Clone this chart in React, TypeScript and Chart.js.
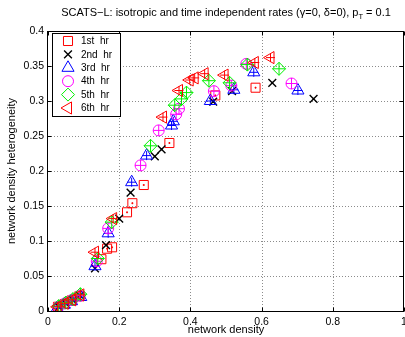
import React, { useEffect, useRef } from 'react';
import { Chart, registerables, PointElement } from 'chart.js';

Chart.register(...registerables);

const titleMain = 'SCATS\u2212L: isotropic and time independent rates (\u03b3=0, \u03b4=0), p';
const titleSub = 'T';
const titleTail = ' = 0.1';
const xTitle = 'network density';
const yTitle = 'network density heterogeneity';

const seriesLabels = ['1st  hr', '2nd  hr', '3rd  hr', '4th  hr', '5th  hr', '6th  hr'];
const xTicks = [0, 0.2, 0.4, 0.6, 0.8, 1];
const yTicks = [0, 0.05, 0.1, 0.15, 0.2, 0.25, 0.3, 0.35, 0.4];

const hr1X = [0.028, 0.047, 0.066, 0.088, 0.150, 0.166, 0.180, 0.222, 0.237, 0.269, 0.341, 0.470, 0.583];
const hr1Y = [0.006, 0.010, 0.015, 0.021, 0.074, 0.089, 0.091, 0.141, 0.154, 0.180, 0.240, 0.308, 0.319];

const hr2X = [0.030, 0.050, 0.069, 0.090, 0.132, 0.163, 0.200, 0.232, 0.300, 0.319, 0.464, 0.517, 0.630, 0.746];
const hr2Y = [0.006, 0.011, 0.016, 0.022, 0.061, 0.094, 0.132, 0.169, 0.221, 0.231, 0.299, 0.314, 0.326, 0.303];

const hr3X = [0.026, 0.046, 0.066, 0.092, 0.132, 0.169, 0.235, 0.277, 0.347, 0.352, 0.456, 0.522, 0.578, 0.702];
const hr3Y = [0.004, 0.009, 0.014, 0.020, 0.064, 0.111, 0.184, 0.222, 0.265, 0.271, 0.300, 0.316, 0.341, 0.315];

const hr4X = [0.029, 0.048, 0.068, 0.089, 0.137, 0.169, 0.260, 0.311, 0.360, 0.368, 0.466, 0.515, 0.557, 0.684];
const hr4Y = [0.006, 0.011, 0.016, 0.022, 0.071, 0.118, 0.208, 0.258, 0.281, 0.289, 0.314, 0.322, 0.353, 0.325];

const hr5X = [0.030, 0.050, 0.070, 0.091, 0.140, 0.179, 0.288, 0.356, 0.375, 0.389, 0.452, 0.510, 0.560, 0.649];
const hr5Y = [0.007, 0.012, 0.017, 0.024, 0.075, 0.127, 0.236, 0.294, 0.303, 0.312, 0.329, 0.326, 0.352, 0.346];

const hr6X = [0.027, 0.047, 0.068, 0.091, 0.132, 0.183, 0.323, 0.368, 0.398, 0.412, 0.440, 0.496, 0.581, 0.625];
const hr6Y = [0.006, 0.011, 0.016, 0.023, 0.084, 0.132, 0.277, 0.315, 0.330, 0.333, 0.339, 0.337, 0.355, 0.362];

const seriesX = [hr1X, hr2X, hr3X, hr4X, hr5X, hr6X];
const seriesY = [hr1Y, hr2Y, hr3Y, hr4Y, hr5Y, hr6Y];

const colors = ['#ff0000', '#000000', '#0000ff', '#ff00ff', '#00f000', '#ff0000'];
const pointStyles: any[] = ['rect', 'crossRot', 'triangle', 'circle', 'rectRot', 'triangle'];
const rotations = [0, 0, 0, 0, 0, -90];
const radii = [6.4, 5.5, 7, 5.5, 6.5, 7];
const crossRadii = [1, 1, 4.5, 5.5, 6.5, 4.5];

const FONT = '"Liberation Sans", Arial, Helvetica, sans-serif';

const framePlugin = {
  id: 'matlabFrame',
  beforeDatasetsDraw(chart: any) {
    const { ctx, chartArea: a, scales } = chart;
    ctx.save();
    ctx.strokeStyle = 'rgba(0,0,0,0.45)';
    ctx.lineWidth = 1;
    ctx.setLineDash([1, 2]);
    xTicks.forEach((v) => {
      const px = Math.round(scales.x.getPixelForValue(v)) + 0.5;
      if (px <= a.left + 1 || px >= a.right - 1) return;
      ctx.beginPath();
      ctx.moveTo(px, a.top);
      ctx.lineTo(px, a.bottom);
      ctx.stroke();
    });
    yTicks.forEach((v) => {
      const py = Math.round(scales.y.getPixelForValue(v)) + 0.5;
      if (py <= a.top + 1 || py >= a.bottom - 1) return;
      ctx.beginPath();
      ctx.moveTo(a.left, py);
      ctx.lineTo(a.right, py);
      ctx.stroke();
    });
    ctx.restore();
  },
  afterDatasetsDraw(chart: any) {
    const { ctx, chartArea: a, scales } = chart;
    ctx.save();
    ctx.setLineDash([]);
    ctx.strokeStyle = '#000';
    ctx.lineWidth = 1;
    const L = Math.round(a.left) - 0.5;
    const R = Math.round(a.right) - 0.5;
    const T = Math.round(a.top) + 0.5;
    const B = Math.round(a.bottom) + 0.5;
    ctx.strokeRect(L, T, R - L, B - T);
    const tl = 4;
    ctx.beginPath();
    xTicks.forEach((v) => {
      const px = Math.round(scales.x.getPixelForValue(v)) + 0.5;
      ctx.moveTo(px, B);
      ctx.lineTo(px, B - tl);
      ctx.moveTo(px, T);
      ctx.lineTo(px, T + tl);
    });
    yTicks.forEach((v) => {
      const py = Math.round(scales.y.getPixelForValue(v)) + 0.5;
      ctx.moveTo(L, py);
      ctx.lineTo(L + tl, py);
      ctx.moveTo(R, py);
      ctx.lineTo(R - tl, py);
    });
    ctx.stroke();

    // legend box
    const lx = 52, ly = 33, lw = 68, lh = 83;
    ctx.fillStyle = '#fff';
    ctx.fillRect(lx, ly, lw, lh);
    ctx.strokeRect(lx + 0.5, ly + 0.5, lw, lh);
    const area = { left: 0, top: 0, right: 9999, bottom: 9999 };
    seriesLabels.forEach((lab, i) => {
      const cy = 41 + i * 13.4;
      const pt: any = new (PointElement as any)({
        x: 68,
        y: cy,
        options: {
          pointStyle: pointStyles[i],
          rotation: rotations[i],
          radius: radii[i],
          borderWidth: i === 1 ? 1.4 : 1,
          borderColor: colors[i],
          backgroundColor: 'rgba(0,0,0,0)',
        },
      });
      pt.draw(ctx, area);
      ctx.fillStyle = '#000';
      ctx.font = '10px ' + FONT;
      ctx.textAlign = 'left';
      ctx.textBaseline = 'middle';
      ctx.fillText(lab, 81, cy + 0.5);
    });

    // title
    const cx = (a.left + a.right) / 2;
    ctx.font = '11px ' + FONT;
    const w1 = ctx.measureText(titleMain).width;
    ctx.font = '7.5px ' + FONT;
    const w2 = ctx.measureText(titleSub).width;
    ctx.font = '11px ' + FONT;
    const w3 = ctx.measureText(titleTail).width;
    let tx = cx - (w1 + w2 + w3) / 2;
    const ty = 13;
    ctx.textAlign = 'left';
    ctx.textBaseline = 'middle';
    ctx.fillStyle = '#000';
    ctx.fillText(titleMain, tx, ty);
    tx += w1;
    ctx.font = '7.5px ' + FONT;
    ctx.fillText(titleSub, tx, ty + 3.5);
    tx += w2;
    ctx.font = '11px ' + FONT;
    ctx.fillText(titleTail, tx, ty);

    // axis titles
    ctx.font = '11px ' + FONT;
    ctx.textAlign = 'center';
    ctx.textBaseline = 'middle';
    ctx.fillText(xTitle, cx, 330);
    ctx.save();
    ctx.translate(12, (a.top + a.bottom) / 2);
    ctx.rotate(-Math.PI / 2);
    ctx.fillText(yTitle, 0, 0);
    ctx.restore();
    ctx.restore();
  },
};

export default function App() {
  const ref = useRef<HTMLCanvasElement | null>(null);
  useEffect(() => {
    if (!ref.current) return;
    const datasets: any[] = [];
    seriesLabels.forEach((lab, i) => {
      const data = seriesX[i].map((x, k) => ({ x, y: seriesY[i][k] }));
      datasets.push({
        label: lab,
        data,
        showLine: false,
        pointStyle: pointStyles[i],
        rotation: rotations[i],
        pointRadius: radii[i],
        pointBorderWidth: i === 1 ? 1.4 : 1,
        borderColor: colors[i],
        backgroundColor: 'rgba(0,0,0,0)',
        pointBackgroundColor: 'rgba(0,0,0,0)',
        order: 20 - 2 * i,
      });
      datasets.push({
        label: lab + ' err',
        data,
        showLine: false,
        pointStyle: 'cross',
        pointRadius: crossRadii[i],
        pointBorderWidth: 1,
        borderColor: colors[i],
        backgroundColor: 'rgba(0,0,0,0)',
        order: 19 - 2 * i,
      });
    });
    const chart = new Chart(ref.current, {
      type: 'scatter',
      data: { datasets },
      plugins: [framePlugin],
      options: {
        animation: false,
        responsive: false,
        devicePixelRatio: 1,
        layout: { autoPadding: false, padding: { top: 31, right: 1, left: 0, bottom: 0 } },
        plugins: { legend: { display: false }, title: { display: false }, tooltip: { enabled: false } },
        scales: {
          x: {
            type: 'linear',
            min: 0,
            max: 1,
            grid: { display: false, drawTicks: false },
            border: { display: false },
            afterBuildTicks: (s: any) => { s.ticks = xTicks.map((v) => ({ value: v })); },
            afterFit: (s: any) => { s.height = 26; s.paddingLeft = 0; s.paddingRight = 0; },
            ticks: {
              padding: 5,
              color: '#000',
              maxRotation: 0,
              autoSkip: false,
              font: { family: FONT, size: 10.5 },
              callback: (v: any) => String(v),
            },
          },
          y: {
            type: 'linear',
            min: 0,
            max: 0.4,
            grid: { display: false, drawTicks: false },
            border: { display: false },
            afterBuildTicks: (s: any) => { s.ticks = yTicks.map((v) => ({ value: v })); },
            afterFit: (s: any) => { s.width = 48; s.paddingTop = 0; s.paddingBottom = 0; },
            ticks: {
              padding: 4,
              color: '#000',
              autoSkip: false,
              font: { family: FONT, size: 10.5 },
              callback: (v: any) => String(v),
            },
          },
        },
      },
    });
    return () => chart.destroy();
  }, []);
  return (
    <div style={{ position: 'absolute', left: 0, top: 0, width: 405, height: 337, background: '#fff' }}>
      <canvas ref={ref} width={405} height={337} style={{ width: 405, height: 337, display: 'block' }} />
    </div>
  );
}
